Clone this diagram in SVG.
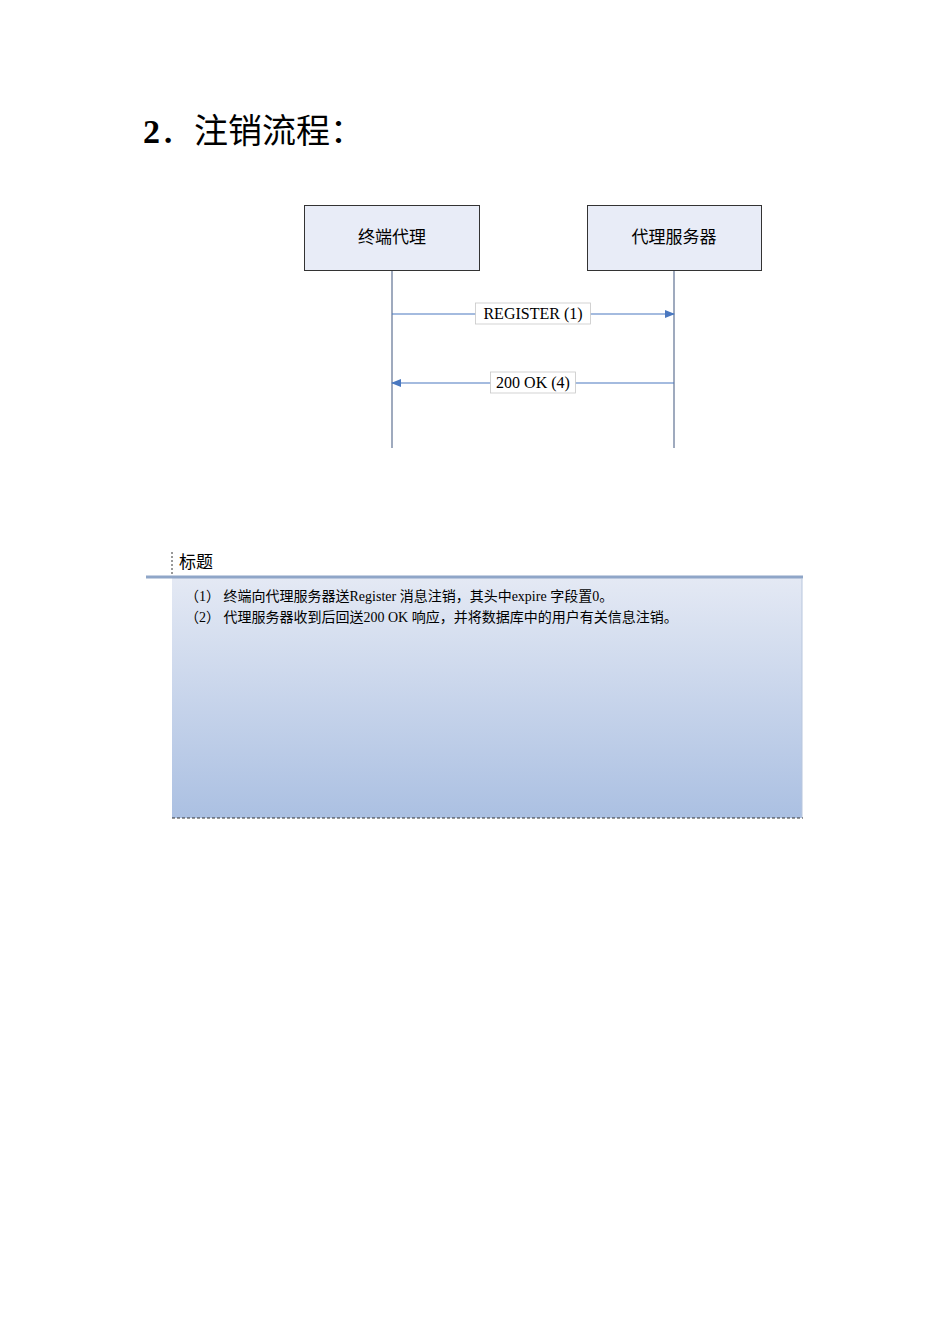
<svg xmlns="http://www.w3.org/2000/svg" width="950" height="1344" viewBox="0 0 950 1344">
<style>
.cn{font-family:"Liberation Serif","Noto Sans CJK SC",serif;fill:#000}
.box{fill:#e8ecf7;stroke:#333;stroke-width:1}
.life{stroke:#7f8ea8;stroke-width:1.5}
.msg{stroke:#4a78c0;stroke-width:1.2;fill:none}
.lbl{fill:#fff;stroke:#c8c8c8;stroke-width:0.8}
</style>
<defs>
<marker id="ah" markerWidth="10" markerHeight="8" refX="9" refY="4" orient="auto" markerUnits="userSpaceOnUse"><path d="M0,0 L10,4 L0,8 Z" fill="#4a78c0"/></marker>
<linearGradient id="g" x1="0" y1="0" x2="0" y2="1"><stop offset="0" stop-color="#e4e9f4"/><stop offset="1" stop-color="#abc0e2"/></linearGradient>
</defs>
<text x="143" y="143" class="cn" font-size="34"><tspan font-weight="bold">2</tspan>．注销流程：</text>
<g id="lifelines">
<line class="life" x1="392" y1="270" x2="392" y2="448"/>
<line class="life" x1="674" y1="270" x2="674" y2="448"/>
</g>
<g id="node-terminal"><rect class="box" x="304.5" y="205.5" width="175" height="65"/><text x="392" y="243" class="cn" font-size="17" text-anchor="middle">终端代理</text></g>
<g id="node-server"><rect class="box" x="587.5" y="205.5" width="174" height="65"/><text x="674" y="243" class="cn" font-size="17" text-anchor="middle">代理服务器</text></g>
<g id="connectors">
<line class="msg" x1="392" y1="314" x2="674" y2="314" marker-end="url(#ah)"/>
<rect class="lbl" x="475.5" y="303" width="115" height="21"/>
<text x="533" y="319" class="cn" font-size="16" text-anchor="middle">REGISTER (1)</text>
<line class="msg" x1="674" y1="383" x2="392" y2="383" marker-end="url(#ah)"/>
<rect class="lbl" x="490.5" y="372" width="85" height="21"/>
<text x="533" y="388" class="cn" font-size="16" text-anchor="middle">200 OK (4)</text>
</g>
<g id="caption">
<line x1="172" y1="552" x2="172" y2="577" stroke="#333" stroke-dasharray="2,2"/>
<text x="179" y="568" class="cn" font-size="17">标题</text>
<rect x="172" y="578" width="630" height="240" fill="url(#g)"/>
<line x1="146" y1="577" x2="803" y2="577" stroke="#8fa6c8" stroke-width="3"/>
<line x1="802" y1="578" x2="802" y2="818" stroke="#b8c6dd"/>
<line x1="172" y1="818" x2="803" y2="818" stroke="#333" stroke-dasharray="3,2"/>
<text x="185" y="601" class="cn" font-size="14">（1）  终端向代理服务器送Register 消息注销，其头中expire 字段置0。</text>
<text x="185" y="622" class="cn" font-size="14">（2）  代理服务器收到后回送200 OK 响应，并将数据库中的用户有关信息注销。</text>
</g>
</svg>
